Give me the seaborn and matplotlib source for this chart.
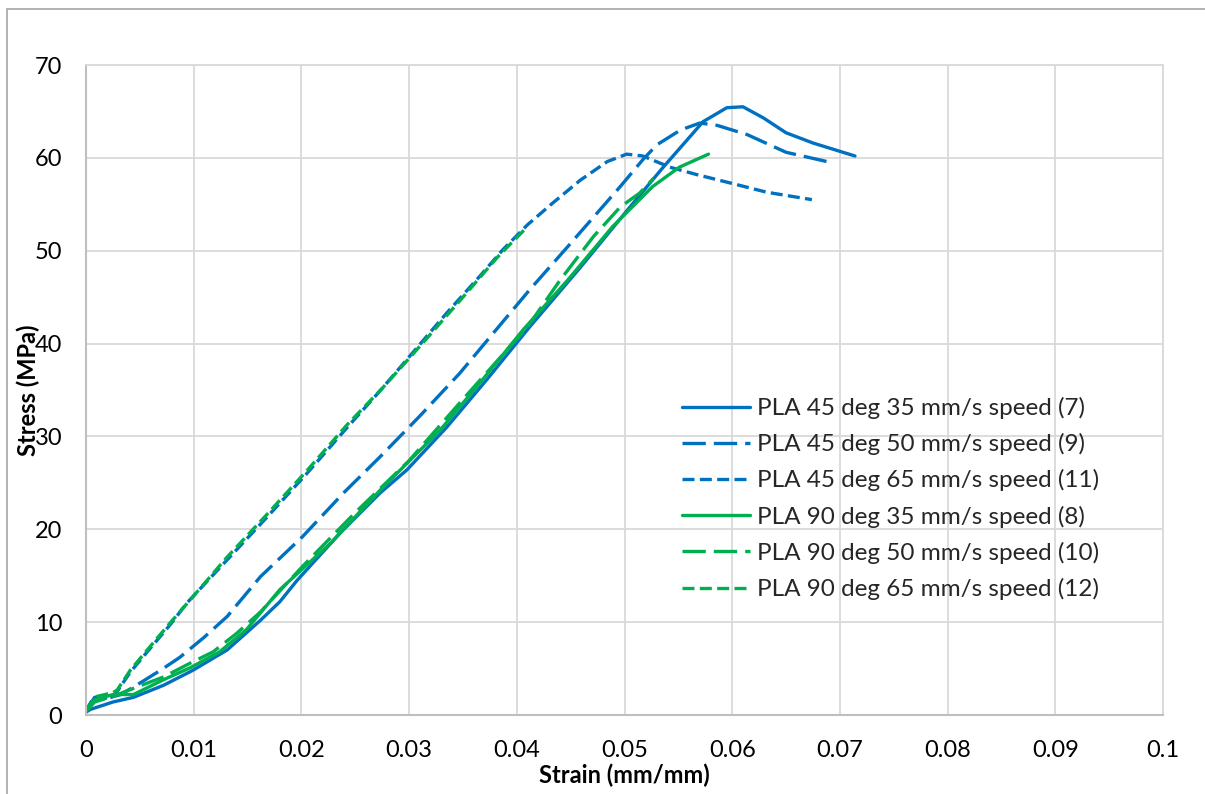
import numpy as np
import pandas as pd
import matplotlib
matplotlib.use("Agg")
import matplotlib.pyplot as plt
import seaborn as sns
from matplotlib.patches import Rectangle

# series labels as they appear in the legend
labels = [
    "PLA 45 deg 35 mm/s speed (7)",
    "PLA 45 deg 50 mm/s speed (9)",
    "PLA 45 deg 65 mm/s speed (11)",
    "PLA 90 deg 35 mm/s speed (8)",
    "PLA 90 deg 50 mm/s speed (10)",
    "PLA 90 deg 65 mm/s speed (12)",
]

# values (strain mm/mm, stress MPa)
strain_45_35 = [0, 0.0004, 0.0025, 0.0044, 0.0072, 0.0099, 0.0131, 0.0162, 0.018, 0.0196,
                0.0236, 0.0273, 0.0298, 0.0335, 0.0372, 0.0412, 0.0459, 0.0505, 0.0536,
                0.0573, 0.0595, 0.061, 0.0629, 0.065, 0.0675, 0.0714]
stress_45_35 = [0.3, 0.6, 1.4, 1.9, 3.2, 4.8, 7.0, 10.2, 12.2, 14.5,
                19.6, 23.9, 26.4, 31.0, 36.1, 41.8, 48.2, 54.7, 59.0,
                63.9, 65.4, 65.5, 64.3, 62.7, 61.6, 60.2]

strain_45_50 = [0, 0.0008, 0.002, 0.0032, 0.0044, 0.0069, 0.0087, 0.0109, 0.0131, 0.0162,
                0.0201, 0.0239, 0.0273, 0.031, 0.0347, 0.0378, 0.0412, 0.0447, 0.0496,
                0.0517, 0.053, 0.0552, 0.057, 0.0586, 0.0614, 0.065, 0.0688]
stress_45_50 = [0.5, 1.9, 1.8, 2.2, 3.0, 4.8, 6.2, 8.3, 10.6, 14.9,
                19.2, 23.9, 27.8, 32.2, 36.8, 41.1, 45.8, 50.4, 56.9,
                59.8, 61.4, 63.0, 63.75, 63.5, 62.5, 60.6, 59.6]

strain_45_65 = [0, 0.0007, 0.0018, 0.0027, 0.0041, 0.0059, 0.0078, 0.0094, 0.0131, 0.0168,
                0.0205, 0.0242, 0.0273, 0.0301, 0.0335, 0.0366, 0.0387, 0.041, 0.0433,
                0.0459, 0.0484, 0.0502, 0.0517, 0.0542, 0.0567, 0.0598, 0.0632, 0.0674]
stress_45_65 = [0.4, 1.9, 1.8, 2.2, 4.6, 7.1, 9.7, 12.1, 16.7, 21.3,
                26.0, 30.9, 34.9, 38.7, 43.3, 47.3, 50.1, 52.8, 55.1,
                57.6, 59.6, 60.4, 60.2, 59.0, 58.2, 57.3, 56.3, 55.5]

strain_90_35 = [0, 0.0007, 0.0025, 0.0044, 0.0072, 0.0097, 0.0124, 0.0149, 0.0162, 0.018,
                0.0227, 0.0273, 0.0329, 0.0366, 0.0406, 0.0447, 0.0489, 0.0526, 0.0551, 0.0578]
stress_90_35 = [0.4, 1.6, 2.2, 2.2, 3.8, 5.1, 6.8, 9.2, 11.0, 13.5,
                18.5, 24.2, 30.7, 35.8, 41.5, 46.8, 52.6, 56.9, 59.0, 60.4]

strain_90_50 = [0, 0.0008, 0.0025, 0.0047, 0.0072, 0.0097, 0.0118, 0.014, 0.0162, 0.0201,
                0.025, 0.03, 0.035, 0.041, 0.044, 0.0471, 0.0496, 0.0514, 0.0527]
stress_90_50 = [0.4, 1.4, 2.0, 3.0, 4.1, 5.6, 6.8, 8.8, 11.1, 16.0,
                21.8, 27.4, 34.0, 41.8, 46.8, 51.5, 54.7, 56.2, 57.8]

strain_90_65 = [0, 0.001, 0.0025, 0.0029, 0.0041, 0.0059, 0.0078, 0.0099, 0.0131, 0.0168,
                0.0205, 0.0242, 0.0276, 0.0313, 0.035, 0.0382, 0.041]
stress_90_65 = [0.5, 2.0, 2.4, 2.7, 4.8, 7.3, 9.9, 12.7, 17.0, 21.6,
                26.3, 31.2, 35.3, 40.1, 45.0, 49.3, 52.6]

x_ticks = [0, 0.01, 0.02, 0.03, 0.04, 0.05, 0.06, 0.07, 0.08, 0.09, 0.1]
x_tick_labels = ["0", "0.01", "0.02", "0.03", "0.04", "0.05", "0.06", "0.07", "0.08", "0.09", "0.1"]
y_ticks = [0, 10, 20, 30, 40, 50, 60, 70]

series = [
    (strain_45_35, stress_45_35),
    (strain_45_50, stress_45_50),
    (strain_45_65, stress_45_65),
    (strain_90_35, stress_90_35),
    (strain_90_50, stress_90_50),
    (strain_90_65, stress_90_65),
]

frames = []
for lab, (sx, sy) in zip(labels, series):
    frames.append(pd.DataFrame({"strain": sx, "stress": sy, "series": lab}))
df = pd.concat(frames, ignore_index=True)

blue = "#0070C0"
green = "#00B050"
palette = dict(zip(labels, [blue, blue, blue, green, green, green]))
dash_styles = dict(zip(labels, ["", (7, 2.4), (3.6, 1.6), "", (7, 2.4), (3.6, 1.6)]))

sns.set_theme(style="whitegrid", rc={"grid.color": "#D9D9D9", "grid.linewidth": 1.3})
plt.rcParams["font.family"] = ["Lato", "DejaVu Sans"]

fig = plt.figure(figsize=(12.05, 7.94), dpi=100)
ax = fig.add_axes([86 / 1205, 1 - 715 / 794, (1163 - 86) / 1205, (715 - 65) / 794])

sns.lineplot(
    data=df, x="strain", y="stress",
    hue="series", style="series",
    hue_order=labels, style_order=labels,
    palette=palette, dashes=dash_styles,
    sort=False, estimator=None, linewidth=2.4, ax=ax,
)

ax.set_xlim(0, 0.1)
ax.set_ylim(0, 70)
ax.set_xticks(x_ticks)
ax.set_xticklabels(x_tick_labels)
ax.set_yticks(y_ticks)
ax.tick_params(axis="both", length=0, labelsize=17, colors="black")
ax.tick_params(axis="x", pad=18)
ax.tick_params(axis="y", pad=17)

ax.set_xlabel("Strain (mm/mm)", fontsize=17, fontweight="bold", color="black")
ax.set_ylabel("Stress (MPa)", fontsize=17, fontweight="bold", color="black")
ax.xaxis.set_label_coords(0.5, -0.074)
ax.yaxis.set_label_coords(-0.043, 0.5)

for side in ["left", "bottom"]:
    ax.spines[side].set_color("#BFBFBF")
    ax.spines[side].set_linewidth(1.5)
for side in ["top", "right"]:
    ax.spines[side].set_color("#D9D9D9")
    ax.spines[side].set_linewidth(1.3)
ax.set_facecolor("white")

handles, leg_labels = ax.get_legend_handles_labels()
ax.legend(
    handles, leg_labels, loc="upper left", bbox_to_anchor=((682 - 86) / 1077, (715 - 397) / 650),
    frameon=False, fontsize=17.5, handlelength=2.8, handletextpad=0.3,
    labelspacing=0.58, borderaxespad=0, borderpad=0,
)

# outer chart border (only top and left edges visible in the crop)
fig.patches.append(Rectangle((7 / 1205, -0.2), 2, 1.2 - 9 / 794, transform=fig.transFigure,
                             fill=False, edgecolor="#A6A6A6", linewidth=1.2))

fig.savefig("out.png", dpi=100, facecolor="white")
